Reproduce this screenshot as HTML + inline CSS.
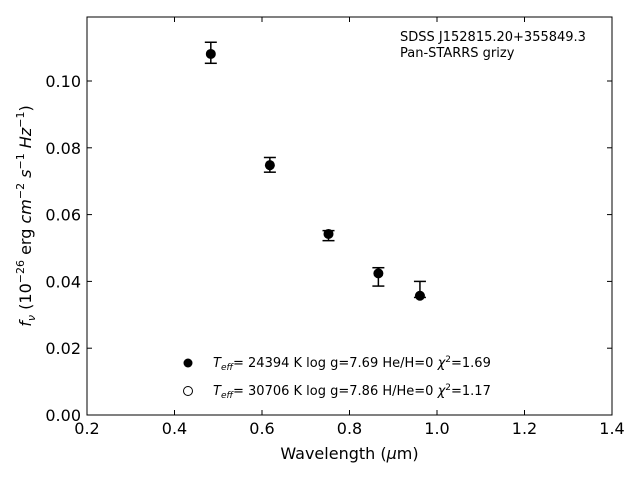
<!DOCTYPE html>
<html><head><meta charset="utf-8"><style>
body{margin:0;background:#fff;font-family:"Liberation Sans","DejaVu Sans",sans-serif}
svg text{font-family:"DejaVu Sans","Liberation Sans",sans-serif}
</style></head><body>
<svg id="chart" width="640" height="480" viewBox="0 0 640 480" xmlns="http://www.w3.org/2000/svg">
<rect x="0" y="0" width="640" height="480" fill="#fff"/>
<g id="ticks"></g>
<g id="marks"></g>
<rect x="87" y="17" width="525" height="398" fill="none" stroke="#000" stroke-width="1"/>
<text x="349.5" y="459" font-size="16" text-anchor="middle">Wavelength (<tspan font-style="italic">μ</tspan>m)</text>
<text transform="translate(31,216) rotate(-90)" font-size="16" text-anchor="middle"><tspan font-style="italic">f<tspan font-size="11" dy="4">ν</tspan></tspan><tspan dy="-4"> (10</tspan><tspan font-size="11" dy="-7">−26</tspan><tspan dy="7"> erg </tspan><tspan font-style="italic">cm</tspan><tspan font-size="11" dy="-7">−2</tspan><tspan dy="7" font-style="italic"> s</tspan><tspan font-size="11" dy="-7">−1</tspan><tspan dy="7" font-style="italic"> Hz</tspan><tspan font-size="11" dy="-7">−1</tspan><tspan dy="7">)</tspan></text>
<text x="400" y="41" font-size="13">SDSS J152815.20+355849.3</text>
<text x="400" y="57" font-size="13">Pan-STARRS grizy</text>
<g>
<circle cx="188" cy="363" r="4.5" fill="#000"/>
<text x="213" y="367" font-size="13"><tspan font-style="italic">T</tspan><tspan font-size="9" dy="3" font-style="italic">eff</tspan><tspan dy="-3">= 24394 K  log g=7.69  He/H=0  </tspan><tspan font-style="italic">χ</tspan><tspan font-size="9" dy="-5">2</tspan><tspan dy="5">=1.69</tspan></text>
<circle cx="188" cy="391" r="4.5" fill="#fff" stroke="#000" stroke-width="1"/>
<text x="213" y="395" font-size="13"><tspan font-style="italic">T</tspan><tspan font-size="9" dy="3" font-style="italic">eff</tspan><tspan dy="-3">= 30706 K  log g=7.86  H/He=0  </tspan><tspan font-style="italic">χ</tspan><tspan font-size="9" dy="-5">2</tspan><tspan dy="5">=1.17</tspan></text>
</g>
</svg>
<script>
const wavelengths=[0.483,0.618,0.752,0.866,0.961];
const fluxes=[0.1081,0.0748,0.0542,0.0424,0.0357];
const errUpper=[0.1116,0.0771,0.0552,0.0441,0.0400];
const errLower=[0.1053,0.0727,0.0522,0.0386,0.0352];
const xTicks=[0.2,0.4,0.6,0.8,1.0,1.2,1.4];
const xTickLabels=["0.2","0.4","0.6","0.8","1.0","1.2","1.4"];
const yTicks=[0,0.02,0.04,0.06,0.08,0.10];
const yTickLabels=["0.00","0.02","0.04","0.06","0.08","0.10"];
const NS="http://www.w3.org/2000/svg";
function X(v){return 87+(v-0.2)/1.2*525;}
function Y(v){return 415-v*3340;}
function mk(t,a,p){const e=document.createElementNS(NS,t);for(const k in a)e.setAttribute(k,a[k]);p.appendChild(e);return e;}
const tg=document.getElementById('ticks');
xTicks.forEach((v,i)=>{const x=X(v);
const l=mk('line',{x1:x,x2:x,y1:415,y2:410,stroke:'#000'},tg);


const l2=mk('line',{x1:x,x2:x,y1:17,y2:22,stroke:'#000'},tg);


const t=mk('text',{x:x,y:434,'font-size':16,'text-anchor':'middle'},tg);t.textContent=xTickLabels[i];

});
yTicks.forEach((v,i)=>{const y=Y(v);
const l=mk('line',{x1:87,x2:92,y1:y,y2:y,stroke:'#000'},tg);


const l2=mk('line',{x1:607,x2:612,y1:y,y2:y,stroke:'#000'},tg);


const t=mk('text',{x:81,y:y+6,'font-size':16,'text-anchor':'end'},tg);t.textContent=yTickLabels[i];

});
const mg=document.getElementById('marks');
wavelengths.forEach((w,i)=>{const x=X(w);
const g=mk('g',{},mg);


mk('line',{x1:x,x2:x,y1:Y(errUpper[i]),y2:Y(errLower[i]),stroke:'#000','stroke-width':1.5},g);
mk('line',{x1:x-6,x2:x+6,y1:Y(errUpper[i]),y2:Y(errUpper[i]),stroke:'#000','stroke-width':1.5},g);
mk('line',{x1:x-6,x2:x+6,y1:Y(errLower[i]),y2:Y(errLower[i]),stroke:'#000','stroke-width':1.5},g);
mk('circle',{cx:x,cy:Y(fluxes[i]),r:5,fill:'#000'},g);});
</script>
</body></html>
